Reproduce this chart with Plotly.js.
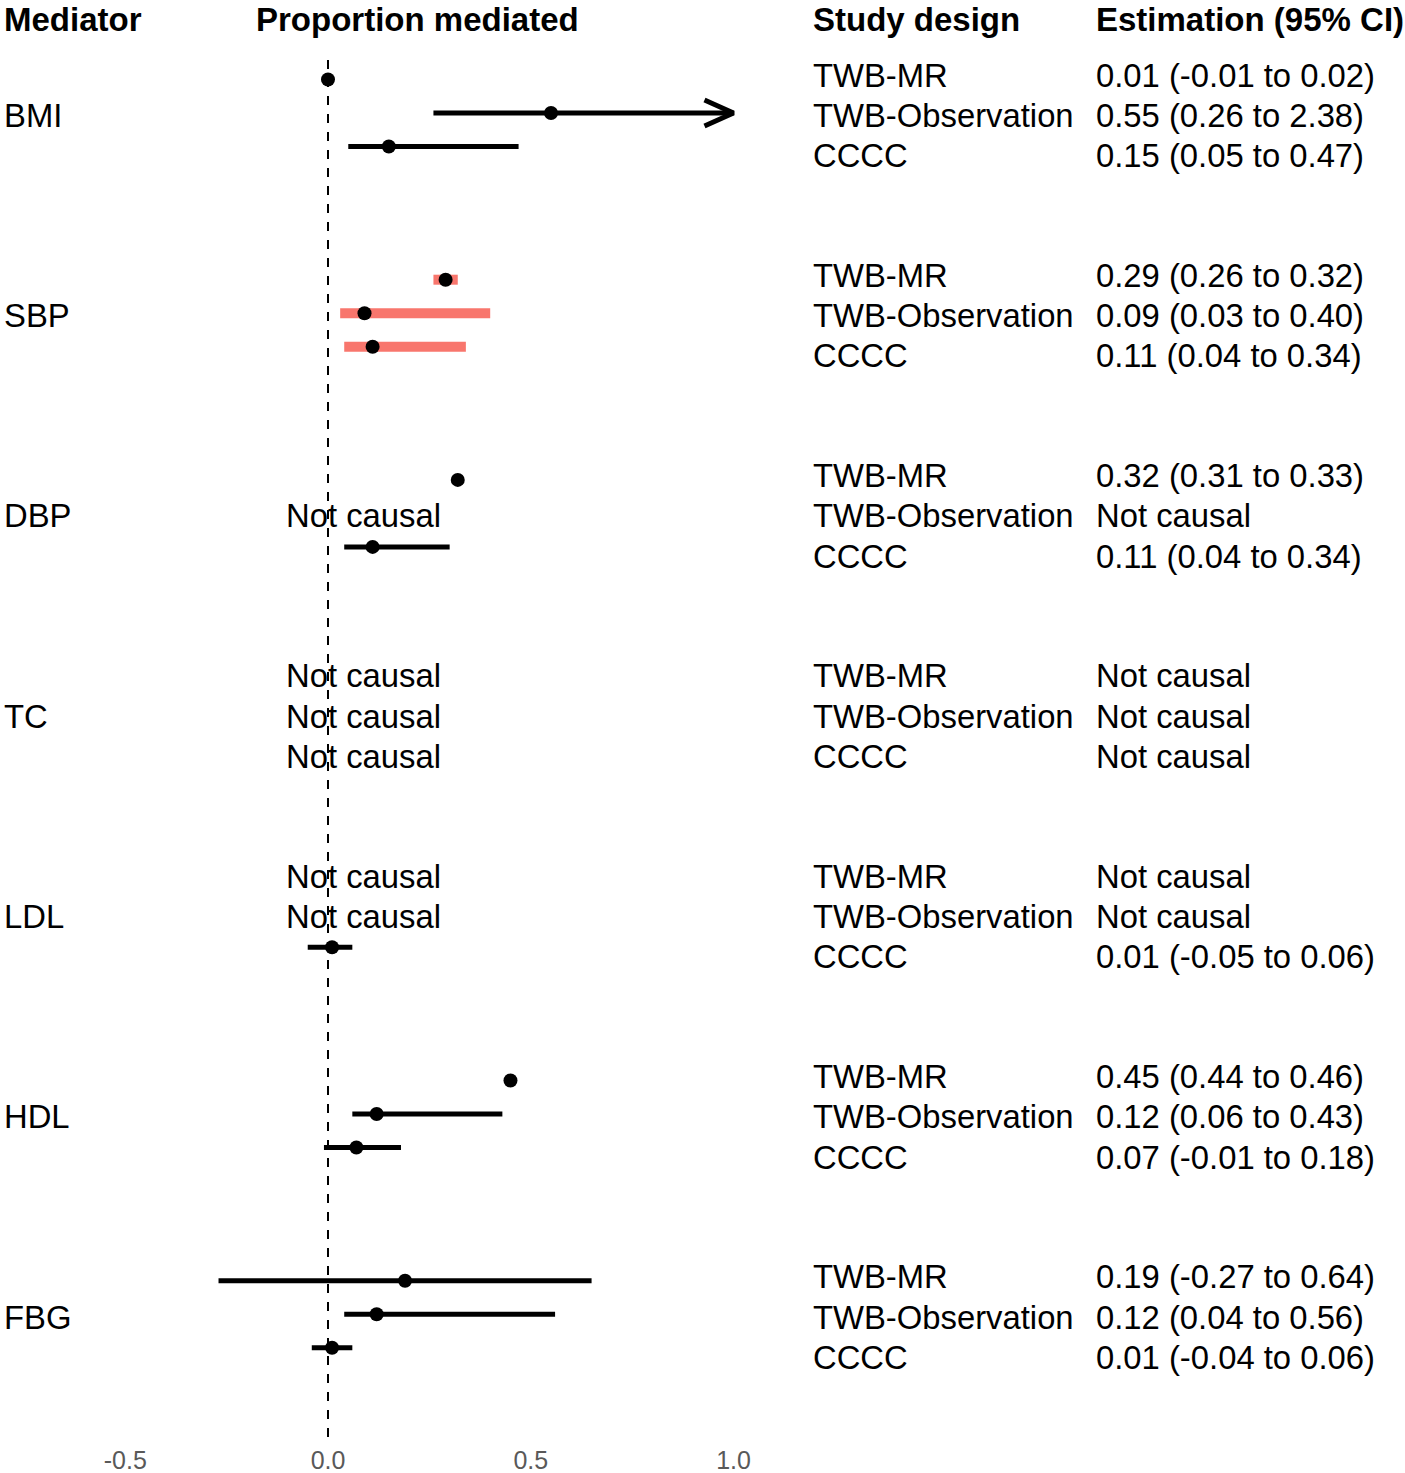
<!DOCTYPE html>
<html>
<head>
<meta charset="utf-8">
<script src="https://cdn.plot.ly/plotly-3.0.1.min.js"></script>
<style>html,body{margin:0;padding:0;background:#fff;}#chart{width:1405px;height:1473px;}</style>
</head>
<body>
<div id="chart"></div>
<script>
// ---- data ----
var mediators = ['BMI', 'SBP', 'DBP', 'TC', 'LDL', 'HDL', 'FBG'];
var designs = ['TWB-MR', 'TWB-Observation', 'CCCC'];
// point estimates as drawn (null = Not causal)
var estMR  = [0.00, 0.29, 0.32, null, null, 0.45, 0.19];
var loMR   = [-0.01, 0.26, 0.31, null, null, 0.44, -0.27];
var hiMR   = [0.01, 0.32, 0.33, null, null, 0.46, 0.65];
var estObs = [0.55, 0.09, null, null, null, 0.12, 0.12];
var loObs  = [0.26, 0.03, null, null, null, 0.06, 0.04];
var hiObs  = [2.38, 0.40, null, null, null, 0.43, 0.56];
var estCC  = [0.15, 0.11, 0.11, null, 0.01, 0.07, 0.01];
var loCC   = [0.05, 0.04, 0.04, null, -0.05, -0.01, -0.04];
var hiCC   = [0.47, 0.34, 0.30, null, 0.06, 0.18, 0.06];
// estimation text column
var labMR  = ['0.01 (-0.01 to 0.02)', '0.29 (0.26 to 0.32)', '0.32 (0.31 to 0.33)', 'Not causal', 'Not causal', '0.45 (0.44 to 0.46)', '0.19 (-0.27 to 0.64)'];
var labObs = ['0.55 (0.26 to 2.38)', '0.09 (0.03 to 0.40)', 'Not causal', 'Not causal', 'Not causal', '0.12 (0.06 to 0.43)', '0.12 (0.04 to 0.56)'];
var labCC  = ['0.15 (0.05 to 0.47)', '0.11 (0.04 to 0.34)', '0.11 (0.04 to 0.34)', 'Not causal', '0.01 (-0.05 to 0.06)', '0.07 (-0.01 to 0.18)', '0.01 (-0.04 to 0.06)'];
var highlight = ['SBP'];           // mediators drawn with red CI bars
var tickVals = [-0.5, 0, 0.5, 1.0];
var tickText = ['-0.5', '0.0', '0.5', '1.0'];
var xClip = 1.0;                   // CIs beyond this get an arrow

// ---- layout helpers ----
var W = 1405, H = 1473, MB = 30;
var PX_PER_UNIT = 405.5, X0PX = 328;
var xRange = [-X0PX / PX_PER_UNIT, (W - X0PX) / PX_PER_UNIT];
var pxToX = function (p) { return p / PX_PER_UNIT; };
function markY(g, r) { return 113 + 200.2 * g + (r - 1) * 33.5; }
function textY(g, r) { return 75 + 200.3 * g + r * 40.3; }

var FONT = 'Liberation Sans, Arial, sans-serif';
var BODY = 32.8, HEAD = 33;
var est = [estMR, estObs, estCC], lo = [loMR, loObs, loCC], hi = [hiMR, hiObs, hiCC];
var labs = [labMR, labObs, labCC];

var traces = [];
var blackX = [], blackY = [], redX = [], redY = [], ptX = [], ptY = [], arrX = [], arrY = [];
var annotations = [];
function txt(xref, x, y, text, size, extra) {
  var a = {xref: xref, yref: 'y', x: x, y: y, xanchor: 'left', yanchor: 'middle', text: text,
    showarrow: false, borderpad: 0, font: {family: FONT, size: size, color: '#000'}};
  if (extra) for (var k in extra) a[k] = extra[k];
  annotations.push(a);
}

mediators.forEach(function (m, g) {
  txt('paper', 3 / W, textY(g, 1), m, BODY);
  for (var r = 0; r < 3; r++) {
    var e = est[r][g];
    txt('paper', 812 / W, textY(g, r), designs[r], BODY);
    txt('paper', 1095 / W, textY(g, r), labs[r][g], BODY);
    if (e === null) {
      txt('x', pxToX(285 - X0PX), textY(g, r), 'Not causal', BODY);
      continue;
    }
    var y = markY(g, r);
    var l = lo[r][g], h = Math.min(hi[r][g], xClip);
    if (highlight.indexOf(m) >= 0) { redX.push(l, h, null); redY.push(y, y, null); }
    else { blackX.push(l, h, null); blackY.push(y, y, null); }
    if (hi[r][g] > xClip) {
      arrX.push(xClip - pxToX(29), xClip, xClip - pxToX(29), null);
      arrY.push(y - 13, y, y + 13, null);
    }
    ptX.push(e); ptY.push(y);
  }
});

traces.push({type: 'scatter', mode: 'lines', x: redX, y: redY, line: {color: '#F8766D', width: 10}, hoverinfo: 'skip'});
traces.push({type: 'scatter', mode: 'lines', x: blackX, y: blackY, line: {color: '#000', width: 5}, hoverinfo: 'skip'});
traces.push({type: 'scatter', mode: 'lines', x: arrX, y: arrY, line: {color: '#000', width: 5, join: 'miter'}, hoverinfo: 'skip'});
traces.push({type: 'scatter', mode: 'markers', x: ptX, y: ptY, marker: {color: '#000', size: 14, symbol: 'circle'}});

// headers
var hdr = {yanchor: 'top'};
txt('paper', 3 / W, 0, '<b>Mediator</b>', HEAD, hdr);
txt('paper', 255 / W, 0, '<b>Proportion mediated</b>', HEAD, hdr);
txt('paper', 812 / W, 0, '<b>Study design</b>', HEAD, hdr);
txt('paper', 1095 / W, 0, '<b>Estimation (95% CI)</b>', HEAD, hdr);

var layout = {
  width: W, height: H,
  margin: {l: 0, r: 0, t: 0, b: MB},
  paper_bgcolor: '#fff', plot_bgcolor: '#fff',
  showlegend: false,
  xaxis: {range: xRange, tickvals: tickVals, ticktext: tickText, showgrid: false, zeroline: false,
    showline: false, ticks: '', tickfont: {family: FONT, size: 25, color: '#595959'}, fixedrange: true},
  yaxis: {range: [H - MB, 0], visible: false, showgrid: false, zeroline: false, fixedrange: true},
  shapes: [{type: 'line', xref: 'x', yref: 'y', x0: 0, x1: 0, y0: 60, y1: H - MB - 3,
    line: {color: '#000', width: 2, dash: 'dash'}}],
  annotations: annotations
};

Plotly.newPlot('chart', traces, layout, {displayModeBar: false, staticPlot: true});
</script>
</body>
</html>
